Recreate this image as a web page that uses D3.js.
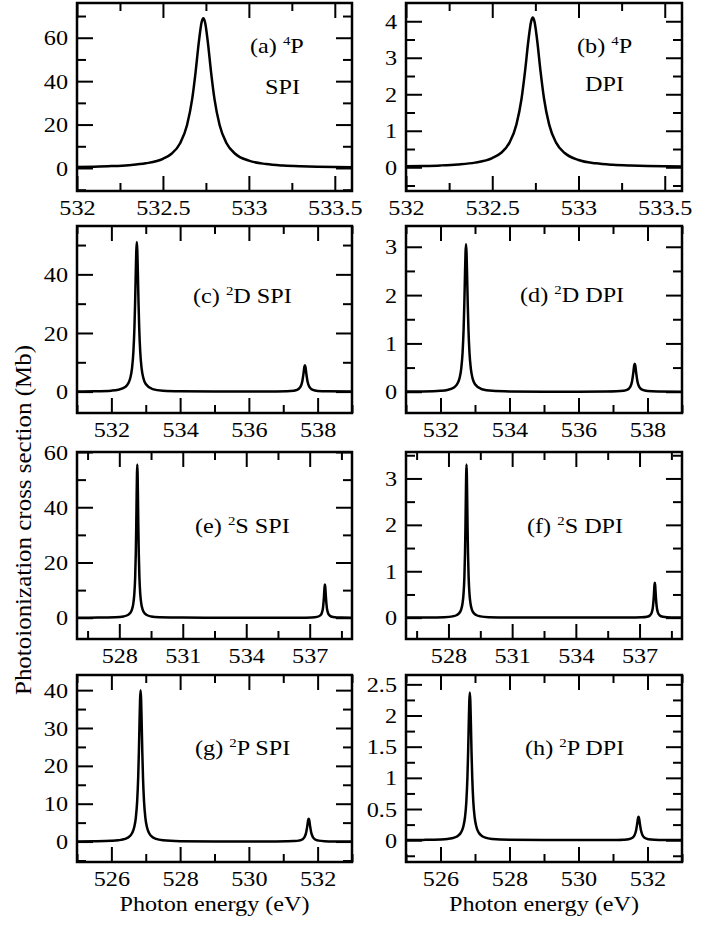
<!DOCTYPE html>
<html>
<head>
<meta charset="utf-8">
<script src="https://cdn.jsdelivr.net/npm/d3@7"></script>
<style>
  body { margin: 0; background: #fff; }
</style>
</head>
<body>
<svg width="715" height="925"></svg>
<script>
// photon energies (eV) sampled for each pair of panels
var xAB = [532.0,532.1,532.2,532.3,532.4,532.5,532.55,532.6,532.64,532.67,532.69,532.71,532.725,532.735,532.745,532.76,532.78,532.8,532.83,532.87,532.92,533.0,533.1,533.2,533.3,533.4,533.5,533.6];
var xCD = [531,531.5,532,532.2,532.4,532.5,532.55,532.6,532.64,532.67,532.69,532.71,532.725,532.74,532.755,532.77,532.79,532.81,532.84,532.88,532.93,533.0,533.2,533.5,534,535,536,536.8,537.1,537.3,537.4,537.5,537.55,537.59,537.615,537.63,537.645,537.67,537.71,537.76,537.86,538.0,538.3,539];
var xEF = [526,527,527.8,528.2,528.4,528.5,528.6,528.66,528.71,528.75,528.78,528.8,528.82,528.835,528.85,528.865,528.88,528.9,528.92,528.95,528.99,529.04,529.1,529.2,529.3,529.5,529.9,531,533,535,536.5,537.1,537.35,537.5,537.58,537.63,537.67,537.69,537.705,537.72,537.735,537.75,537.77,537.81,537.86,537.94,538.1,538.5,539];
var xGH = [525,525.5,526,526.2,526.4,526.5,526.6,526.66,526.71,526.75,526.78,526.8,526.82,526.835,526.85,526.865,526.88,526.9,526.92,526.95,526.99,527.04,527.1,527.2,527.3,527.5,528,529,530,530.8,531.1,531.3,531.45,531.55,531.62,531.67,531.7,531.725,531.74,531.755,531.78,531.81,531.86,531.93,532.03,532.2,532.5,533];

// cross sections (Mb)
var yA = [0.46,0.61,0.86,1.29,2.14,4.22,6.57,11.4,19.7,31.7,44.2,58.8,67.1,69.0,67.1,58.8,44.2,31.7,19.7,11.4,6.57,3.37,1.82,1.13,0.77,0.56,0.42,0.33];
var yB = [0.027,0.036,0.051,0.077,0.127,0.251,0.39,0.676,1.169,1.884,2.626,3.494,3.987,4.1,3.987,3.494,2.626,1.884,1.169,0.676,0.39,0.2,0.108,0.067,0.046,0.033,0.025,0.02];
var yC = [0.06,0.12,0.33,0.62,1.54,3.0,4.62,7.91,13.5,21.6,30.1,40.8,48.0,51.0,48.0,40.8,30.1,21.6,13.5,7.91,4.62,2.58,0.85,0.32,0.12,0.04,0.03,0.06,0.12,0.30,0.58,1.58,3.24,6.23,8.47,9.0,8.47,6.23,3.24,1.58,0.58,0.23,0.08,0.02];
var yD = [0.004,0.007,0.020,0.037,0.092,0.179,0.276,0.473,0.807,1.292,1.80,2.44,2.87,3.05,2.87,2.44,1.80,1.292,0.807,0.473,0.276,0.154,0.051,0.019,0.007,0.002,0.002,0.004,0.008,0.019,0.037,0.102,0.209,0.401,0.546,0.58,0.546,0.401,0.209,0.102,0.037,0.015,0.005,0.001];
var yE = [0.025,0.058,0.181,0.469,0.969,1.58,3.02,5.03,8.61,14.7,23.5,32.8,44.4,52.2,55.5,52.2,44.4,32.8,23.5,14.7,8.61,5.03,3.02,1.58,0.969,0.469,0.181,0.04,0.01,0.01,0.03,0.11,0.31,0.83,1.86,3.69,7.08,9.6,11.3,12.0,11.3,9.6,7.08,3.69,1.86,0.83,0.29,0.07,0.03];
var yF = [0.0015,0.0034,0.011,0.028,0.058,0.094,0.18,0.299,0.512,0.873,1.397,1.95,2.64,3.10,3.3,3.10,2.64,1.95,1.397,0.873,0.512,0.299,0.18,0.094,0.058,0.028,0.011,0.003,0.001,0.001,0.002,0.007,0.019,0.052,0.116,0.231,0.443,0.6,0.706,0.75,0.706,0.6,0.443,0.231,0.116,0.052,0.018,0.004,0.002];
var yG = [0.042,0.079,0.198,0.338,0.699,1.14,2.18,3.63,6.21,10.6,16.9,23.6,32.0,37.6,40.0,37.6,32.0,23.6,16.9,10.6,6.21,3.63,2.18,1.14,0.699,0.338,0.109,0.03,0.02,0.03,0.06,0.12,0.25,0.54,1.2,2.54,4.15,5.65,6.0,5.65,4.15,2.54,1.2,0.54,0.25,0.1,0.037,0.014];
var yH = [0.0025,0.0047,0.0117,0.02,0.041,0.068,0.129,0.215,0.368,0.627,1.004,1.398,1.896,2.228,2.37,2.228,1.896,1.398,1.004,0.627,0.368,0.215,0.129,0.068,0.041,0.02,0.0065,0.002,0.001,0.002,0.0037,0.0075,0.015,0.034,0.075,0.159,0.259,0.353,0.375,0.353,0.259,0.159,0.075,0.034,0.015,0.006,0.002,0.001];

// tick labels
var xTicksAB = [532, 532.5, 533, 533.5], xMinorAB = [532.25, 532.75, 533.25];
var xTicksCD = [532, 534, 536, 538], xMinorCD = [531, 533, 535, 537, 539];
var xTicksEF = [528, 531, 534, 537], xMinorEF = [526.5, 529.5, 532.5, 535.5, 538.5];
var xTicksGH = [526, 528, 530, 532], xMinorGH = [525, 527, 529, 531, 533];

// panel texts
var tags = ["(a)", "(b)", "(c)", "(d)", "(e)", "(f)", "(g)", "(h)"];
var mult = ["4", "4", "2", "2", "2", "2", "2", "2"];
var terms = ["P", "P", "D", "D", "S", "S", "P", "P"];
var kinds = ["SPI", "DPI", "SPI", "DPI", "SPI", "DPI", "SPI", "DPI"];

var svg = d3.select("svg"),
    font = "'Liberation Serif', 'Times New Roman', serif",
    sx = 1.1;  // the original is a bit wider than tall

var cols = [[77, 352], [406, 682]],
    rows = [[3, 191], [226, 413], [452, 639], [675, 862]];

var panels = [
  {x: xAB, y: yA, c: 0, r: 0, xd: [532, 533.6], yd: [-10.6, 76],   xt: xTicksAB, xm: xMinorAB, yt: [0,20,40,60],  ym: [-10,10,30,50,70], lx: 250, ly: 53, sub: [265, 94]},
  {x: xAB, y: yB, c: 1, r: 0, xd: [532, 533.6], yd: [-0.65, 4.5],  xt: xTicksAB, xm: xMinorAB, yt: [0,1,2,3,4],   ym: [-0.5,0.5,1.5,2.5,3.5], lx: 577, ly: 53, sub: [585, 91]},
  {x: xCD, y: yC, c: 0, r: 1, xd: [531, 539],   yd: [-7.3, 56.5],  xt: xTicksCD, xm: xMinorCD, yt: [0,20,40],     ym: [10,30,50], lx: 193, ly: 303},
  {x: xCD, y: yD, c: 1, r: 1, xd: [531, 539],   yd: [-0.44, 3.43], xt: xTicksCD, xm: xMinorCD, yt: [0,1,2,3],     ym: [0.5,1.5,2.5], lx: 520, ly: 302},
  {x: xEF, y: yE, c: 0, r: 2, xd: [526, 539],   yd: [-7.7, 60],    xt: xTicksEF, xm: xMinorEF, yt: [0,20,40,60],  ym: [10,30,50], lx: 195, ly: 533},
  {x: xEF, y: yF, c: 1, r: 2, xd: [526, 539],   yd: [-0.46, 3.57], xt: xTicksEF, xm: xMinorEF, yt: [0,1,2,3],     ym: [0.5,1.5,2.5,3.5], lx: 527, ly: 533},
  {x: xGH, y: yG, c: 0, r: 3, xd: [525, 533],   yd: [-5.4, 44],    xt: xTicksGH, xm: xMinorGH, yt: [0,10,20,30,40], ym: [-5,5,15,25,35], lx: 195, ly: 755},
  {x: xGH, y: yH, c: 1, r: 3, xd: [525, 533],   yd: [-0.35, 2.65], xt: xTicksGH, xm: xMinorGH, yt: [0,0.5,1,1.5,2,2.5], ym: [-0.25,0.25,0.75,1.25,1.75,2.25], lx: 525, ly: 755}
];

function clean(g) {
  g.select(".domain").remove();
  g.selectAll("line").attr("stroke-width", 2);
  g.attr("font-size", 22).attr("font-family", font);
}

panels.forEach(function(p, i) {
  var left = cols[p.c][0], right = cols[p.c][1],
      top = rows[p.r][0], bottom = rows[p.r][1];

  var x = d3.scaleLinear().domain(p.xd).range([left, right]);
  var y = d3.scaleLinear().domain(p.yd).range([bottom, top]);

  var g = svg.append("g");

  // ticks on all four sides, pointing in
  g.append("g").attr("transform", "translate(0," + bottom + ")")
      .call(d3.axisBottom(x).tickValues(p.xt).tickSize(-15).tickFormat(function(d) { return d; }))
      .call(clean)
      .selectAll("text").attr("y", 24).attr("dy", 0)
      .attr("transform", "scale(" + sx + ",1)");
  g.append("g").attr("transform", "translate(0," + bottom + ")")
      .call(d3.axisBottom(x).tickValues(p.xm).tickSize(-8).tickFormat(""))
      .call(clean);
  g.append("g").attr("transform", "translate(0," + top + ")")
      .call(d3.axisTop(x).tickValues(p.xt).tickSize(-15).tickFormat(""))
      .call(clean);
  g.append("g").attr("transform", "translate(0," + top + ")")
      .call(d3.axisTop(x).tickValues(p.xm).tickSize(-8).tickFormat(""))
      .call(clean);

  g.append("g").attr("transform", "translate(" + left + ",0)")
      .call(d3.axisLeft(y).tickValues(p.yt).tickSize(-16).tickFormat(function(d) { return d; }))
      .call(clean)
      .selectAll("text").attr("x", -9 / sx)
      .attr("transform", "scale(" + sx + ",1)");
  g.append("g").attr("transform", "translate(" + left + ",0)")
      .call(d3.axisLeft(y).tickValues(p.ym).tickSize(-9).tickFormat(""))
      .call(clean);
  g.append("g").attr("transform", "translate(" + right + ",0)")
      .call(d3.axisRight(y).tickValues(p.yt).tickSize(-16).tickFormat(""))
      .call(clean);
  g.append("g").attr("transform", "translate(" + right + ",0)")
      .call(d3.axisRight(y).tickValues(p.ym).tickSize(-9).tickFormat(""))
      .call(clean);

  var line = d3.line()
      .x(function(d) { return x(d[0]); })
      .y(function(d) { return y(d[1]); })
      .curve(d3.curveMonotoneX);

  g.append("path")
      .datum(d3.zip(p.x, p.y))
      .attr("d", line)
      .attr("fill", "none")
      .attr("stroke", "#000")
      .attr("stroke-width", 2.5)
      .attr("stroke-linejoin", "round");

  g.append("rect")
      .attr("x", left).attr("y", top)
      .attr("width", right - left).attr("height", bottom - top)
      .attr("fill", "none")
      .attr("stroke", "#000")
      .attr("stroke-width", 2.5);

  // panel label, e.g. (c) 2D SPI with the multiplicity raised
  var t = g.append("text")
      .attr("transform", "translate(" + p.lx + "," + p.ly + ") scale(" + sx + ",1)")
      .attr("font-family", font)
      .attr("font-size", 22);
  t.append("tspan").text(tags[i] + " ");
  t.append("tspan").attr("font-size", 13.5).attr("dy", -8).text(mult[i]);
  t.append("tspan").attr("dy", 8).text(terms[i] + (p.sub ? "" : " " + kinds[i]));

  if (p.sub) {
    g.append("text")
        .attr("transform", "translate(" + p.sub[0] + "," + p.sub[1] + ") scale(" + sx + ",1)")
        .attr("font-family", font)
        .attr("font-size", 22)
        .text(kinds[i]);
  }
});

// axis titles
svg.append("text")
    .attr("transform", "translate(30.5,520) rotate(-90)")
    .attr("text-anchor", "middle")
    .attr("font-family", font)
    .attr("font-size", 23)
    .attr("textLength", 350)
    .attr("lengthAdjust", "spacingAndGlyphs")
    .text("Photoionization cross section (Mb)");

cols.forEach(function(c) {
  svg.append("text")
      .attr("x", (c[0] + c[1]) / 2)
      .attr("y", 911)
      .attr("text-anchor", "middle")
      .attr("font-family", font)
      .attr("font-size", 22)
      .attr("textLength", 190)
      .attr("lengthAdjust", "spacingAndGlyphs")
      .text("Photon energy (eV)");
});
</script>
</body>
</html>
